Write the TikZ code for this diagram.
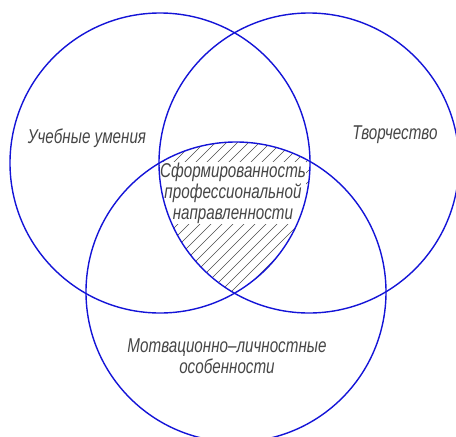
\documentclass[tikz,border=0pt]{standalone}
\usepackage{fontspec}
\newfontfamily\gostfont[FakeStretch=0.76]{Liberation Sans}
\definecolor{ringblue}{RGB}{20,20,215}
\definecolor{labelgray}{RGB}{70,70,70}
\begin{document}
\begin{tikzpicture}[
        x=1pt, y=-1pt,
        ring/.style={draw=ringblue, line width=1.4pt},
        hatch/.style={draw=black!70, line width=0.5pt},
        lbl/.style={text=labelgray, align=center, inner sep=0.5pt,
            font=\gostfont\itshape\fontsize{20}{21}\selectfont}
    ]
    \useasboundingbox (0,0) rectangle (456,437);

    % центры кругов
    \coordinate (study) at (160,163);
    \coordinate (create) at (309,163);
    \coordinate (motive) at (236,292);

    % штриховка общей части
    \begin{scope}
        \clip (study) circle[radius=150];
        \clip (create) circle[radius=150];
        \clip (motive) circle[radius=150];
        \foreach \k in {-150,-139,...,330}
            \draw[hatch] (\k,310) -- ++(200,-200);
    \end{scope}

    % подписи
    \node[lbl] (studylbl) at (87,138) {Учебные умения};
    \node[lbl] (createlbl) at (395,135) {Творчество};
    \node[lbl, fill=white] (core) at (233,193)
        {Сформированность\\профессиональной\\направленности};
    \node[lbl] (motivelbl) at (227,356)
        {Мотвационно–личностные\\особенности};

    % круги
    \draw[ring] (study) circle[radius=150];
    \draw[ring] (create) circle[radius=150];
    \draw[ring] (motive) circle[radius=150];
\end{tikzpicture}
\end{document}
